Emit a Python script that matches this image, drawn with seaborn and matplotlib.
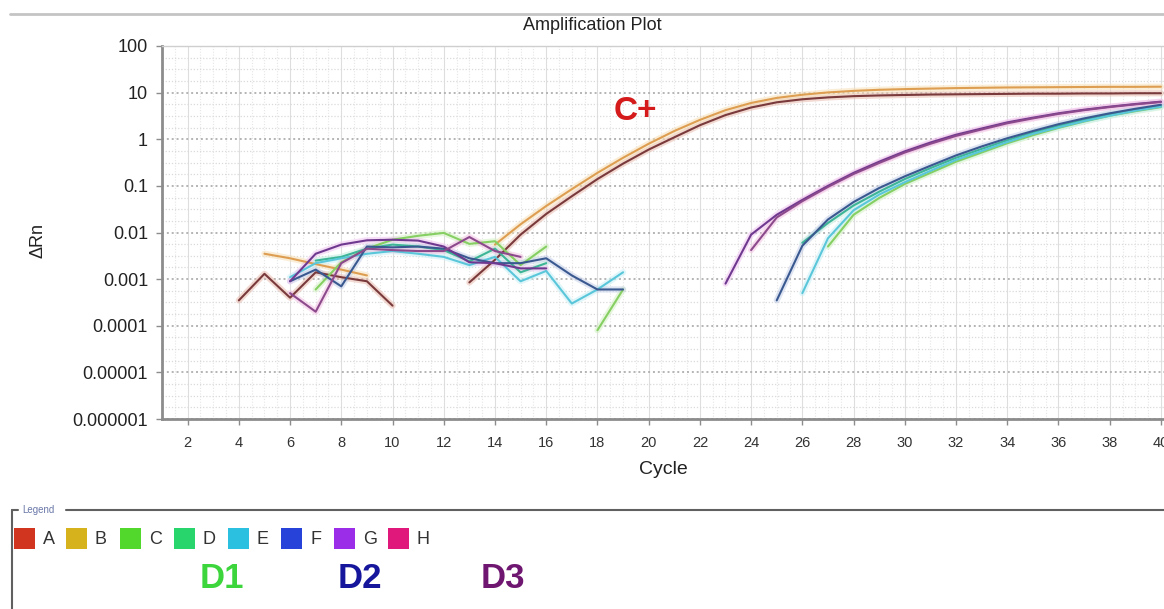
import numpy as np
import pandas as pd
import matplotlib
matplotlib.use("Agg")
import matplotlib.pyplot as plt
from matplotlib.ticker import FixedLocator, FixedFormatter, MultipleLocator
from matplotlib.patches import Rectangle
from matplotlib.lines import Line2D
import seaborn as sns

nan = np.nan

# ---------------- data ----------------
cycles = list(range(1, 41))

A_drn = [nan, nan, nan, 0.00035, 0.0013, 0.0004, 0.0014, 0.0011, 0.0009, 0.00027,
         nan, nan, 0.00085, 0.0026, 0.009, 0.025, 0.06, 0.14, 0.3, 0.6,
         1.1, 2.0, 3.3, 4.8, 6.2, 7.2, 7.9, 8.4, 8.7, 8.9,
         9.1, 9.2, 9.3, 9.4, 9.5, 9.5, 9.6, 9.6, 9.7, 9.7]
B_drn = [nan, nan, nan, nan, 0.0035, 0.0028, 0.0021, 0.0016, 0.0012, nan,
         nan, nan, nan, 0.0055, 0.015, 0.037, 0.085, 0.19, 0.4, 0.8,
         1.5, 2.6, 4.2, 6.0, 7.7, 9.0, 10.1, 10.9, 11.5, 11.9,
         12.2, 12.5, 12.7, 12.9, 13.0, 13.1, 13.2, 13.3, 13.3, 13.4]
C_drn = [nan, nan, nan, nan, nan, nan, 0.0006, 0.0023, 0.0045, 0.007,
         0.0085, 0.0098, 0.0057, 0.0065, 0.002, 0.005, nan, 0.00008, 0.0006, nan,
         nan, nan, nan, nan, nan, nan, 0.005, 0.024, 0.055, 0.11,
         0.19, 0.33, 0.52, 0.82, 1.22, 1.75, 2.4, 3.2, 4.0, 4.9]
D_drn = [nan, nan, nan, nan, nan, nan, 0.0025, 0.003, 0.0045, 0.0055,
         0.005, 0.0042, 0.0024, 0.0045, 0.0014, 0.0022, nan, nan, nan, nan,
         nan, nan, nan, nan, nan, 0.006, 0.016, 0.038, 0.075, 0.14,
         0.24, 0.4, 0.62, 0.95, 1.4, 1.95, 2.6, 3.4, 4.3, 5.2]
E_drn = [nan, nan, nan, nan, nan, 0.0011, 0.0022, 0.0028, 0.0035, 0.004,
         0.0035, 0.003, 0.002, 0.003, 0.0009, 0.0015, 0.0003, 0.0006, 0.0014, nan,
         nan, nan, nan, nan, nan, 0.0005, 0.0075, 0.03, 0.065, 0.12,
         0.21, 0.36, 0.56, 0.87, 1.3, 1.8, 2.45, 3.2, 4.1, 5.0]
F_drn = [nan, nan, nan, nan, nan, 0.0009, 0.0016, 0.0007, 0.005, 0.0048,
         0.005, 0.0045, 0.0028, 0.0022, 0.0022, 0.0028, 0.0012, 0.0006, 0.0006, nan,
         nan, nan, nan, nan, 0.00035, 0.0052, 0.019, 0.045, 0.09, 0.16,
         0.27, 0.45, 0.7, 1.05, 1.5, 2.1, 2.8, 3.6, 4.5, 5.5]
G_drn = [nan, nan, nan, nan, nan, 0.0009, 0.0035, 0.0055, 0.0068, 0.007,
         0.0067, 0.005, 0.0023, 0.0022, 0.0017, 0.0017, nan, nan, nan, nan,
         nan, nan, 0.0008, 0.009, 0.024, 0.05, 0.10, 0.19, 0.33, 0.55,
         0.85, 1.25, 1.7, 2.3, 2.9, 3.6, 4.3, 5.0, 5.7, 6.4]
H_drn = [nan, nan, nan, nan, nan, 0.0005, 0.0002, 0.0022, 0.0045, 0.0042,
         0.004, 0.004, 0.008, 0.004, 0.003, nan, nan, nan, nan, nan,
         nan, nan, nan, 0.0042, 0.021, 0.047, 0.095, 0.18, 0.31, 0.52,
         0.8, 1.18, 1.62, 2.2, 2.8, 3.5, 4.2, 4.9, 5.6, 6.3]

wells = ["A", "B", "C", "D", "E", "F", "G", "H"]
series = [A_drn, B_drn, C_drn, D_drn, E_drn, F_drn, G_drn, H_drn]

y_tick_values = [1e-6, 1e-5, 1e-4, 1e-3, 1e-2, 1e-1, 1, 10, 100]
y_tick_labels = ["0.000001", "0.00001", "0.0001", "0.001", "0.01", "0.1", "1", "10", "100"]
x_tick_values = list(range(2, 41, 2))
x_tick_labels = [str(v) for v in x_tick_values]

group_labels = ["D1", "D2", "D3"]

# ---------------- styles ----------------
core_colors = {"A": "#7a3a3c", "B": "#de9e52", "C": "#86cf62", "D": "#3db596",
               "E": "#5ac6da", "F": "#3a5990", "G": "#6f3990", "H": "#8c4a8c"}
halo_colors = {"A": "#e9bcae", "B": "#f6e0b8", "C": "#d4f2c4", "D": "#c2eedf",
               "E": "#c8f0f6", "F": "#c4cfe8", "G": "#f0c4f2", "H": "#f2c2e2"}
legend_colors = {"A": "#d2351f", "B": "#d6b21c", "C": "#52d82c", "D": "#28d46c",
                 "E": "#2bbfe0", "F": "#2642d8", "G": "#9b2ce8", "H": "#e0187c"}
group_colors = ["#3cd63c", "#16169c", "#6e1670"]

# long-form frame with segment ids so gaps stay gaps
rows = []
for w, vals in zip(wells, series):
    seg = 0
    prev_nan = True
    for c, v in zip(cycles, vals):
        if np.isnan(v):
            prev_nan = True
            continue
        if prev_nan:
            seg += 1
            prev_nan = False
        rows.append({"Cycle": c, "dRn": v, "well": w, "seg": f"{w}{seg}"})
df = pd.DataFrame(rows)

sns.set_style("white")
plt.rcParams["font.family"] = ["Liberation Sans", "DejaVu Sans"]

W, H = 1164, 609
fig = plt.figure(figsize=(W / 100, H / 100), dpi=100)
ax_l, ax_r, ax_t, ax_b = 162, 1164, 46, 419
ax = fig.add_axes([ax_l / W, 1 - ax_b / H, (ax_r - ax_l) / W, (ax_b - ax_t) / H])

sns.lineplot(data=df, x="Cycle", y="dRn", hue="well", units="seg", estimator=None,
             palette=halo_colors, linewidth=4.5, alpha=0.55, legend=False, ax=ax,
             sort=True)
sns.lineplot(data=df, x="Cycle", y="dRn", hue="well", units="seg", estimator=None,
             palette=core_colors, linewidth=1.5, legend=False, ax=ax, sort=True)

ax.set_yscale("log")
ax.set_ylim(1e-6, 100)
ax.set_xlim(1, 40.12)

ax.yaxis.set_major_locator(FixedLocator(y_tick_values))
ax.yaxis.set_major_formatter(FixedFormatter(y_tick_labels))
minor_y = [10 ** (k + f) for k in range(-6, 2) for f in (0.25, 0.5, 0.75)]
ax.yaxis.set_minor_locator(FixedLocator(minor_y))
ax.xaxis.set_major_locator(FixedLocator(x_tick_values))
ax.xaxis.set_major_formatter(FixedFormatter(x_tick_labels))
ax.xaxis.set_minor_locator(MultipleLocator(0.5))

ax.grid(True, which="major", axis="y", color="#b4b4b4", linestyle=(0, (1, 1.5)), linewidth=1.4)
ax.grid(True, which="minor", axis="y", color="#dadada", linestyle=(0, (1, 1.5)), linewidth=0.9)
ax.grid(True, which="major", axis="x", color="#dedede", linestyle="-", linewidth=0.8)
ax.grid(True, which="minor", axis="x", color="#e6e6e6", linestyle=(0, (1, 1.5)), linewidth=0.8)
ax.set_axisbelow(True)

for s in ["left", "bottom"]:
    ax.spines[s].set_color("#8c8c8c")
    ax.spines[s].set_linewidth(2)
ax.spines["top"].set_color("#cfcfcf")
ax.spines["top"].set_linewidth(1)
ax.spines["right"].set_visible(False)

ax.tick_params(axis="y", which="major", length=4, width=1, color="#8c8c8c",
               labelsize=13, labelcolor="#222222", pad=6, left=True)
ax.tick_params(axis="x", which="major", length=4, width=1, color="#8c8c8c",
               labelsize=10.5, labelcolor="#333333", pad=8, bottom=True)
ax.tick_params(which="minor", length=0)

ax.set_xlabel("Cycle", fontsize=14, color="#222222", labelpad=8)
ax.set_ylabel("")
fig.text(38 / W, 1 - 240 / H, "ΔRn", rotation=90, ha="center", va="center",
         fontsize=13, color="#222222")

fig.text(592 / W, 1 - 25 / H, "Amplification Plot", ha="center", va="center",
         fontsize=13, color="#222222")
fig.add_artist(Line2D([10 / W, 1], [1 - 14 / H, 1 - 14 / H], color="#c4c4c4", lw=2))

ax.text(633, 0.9, "C+", transform=ax.transData, ha="center", va="center",
        fontsize=24, fontweight="bold", color="#d41a1a")
# place C+ in pixel coords instead
ax.texts[-1].set_transform(fig.transFigure)
ax.texts[-1].set_position((635 / W, 1 - 112 / H))

# ---------------- legend panel ----------------
ly = 510
fig.add_artist(Line2D([12 / W, 18 / W], [1 - ly / H] * 2, color="#606060", lw=1.5))
fig.add_artist(Line2D([66 / W, 1], [1 - ly / H] * 2, color="#606060", lw=1.5))
fig.add_artist(Line2D([12 / W, 12 / W], [1 - ly / H, 0], color="#606060", lw=1.5))
fig.text(22 / W, 1 - ly / H, "Legend", ha="left", va="center", fontsize=7, color="#6a78a8")

sq_x = [14, 66, 120, 174, 228, 281, 334, 388]
for w, x0 in zip(wells, sq_x):
    fig.add_artist(Rectangle((x0 / W, 1 - 549 / H), 21 / W, 21 / H,
                             transform=fig.transFigure, color=legend_colors[w], lw=0))
    fig.text((x0 + 29) / W, 1 - 539 / H, w, ha="left", va="center", fontsize=13,
             color="#333333")

grp_x = [222, 360, 503]
for lab, gx, gc in zip(group_labels, grp_x, group_colors):
    fig.text(gx / W, 1 - 579 / H, lab, ha="center", va="center", fontsize=25,
             fontweight="bold", color=gc)

fig.savefig("out.png", dpi=100)
